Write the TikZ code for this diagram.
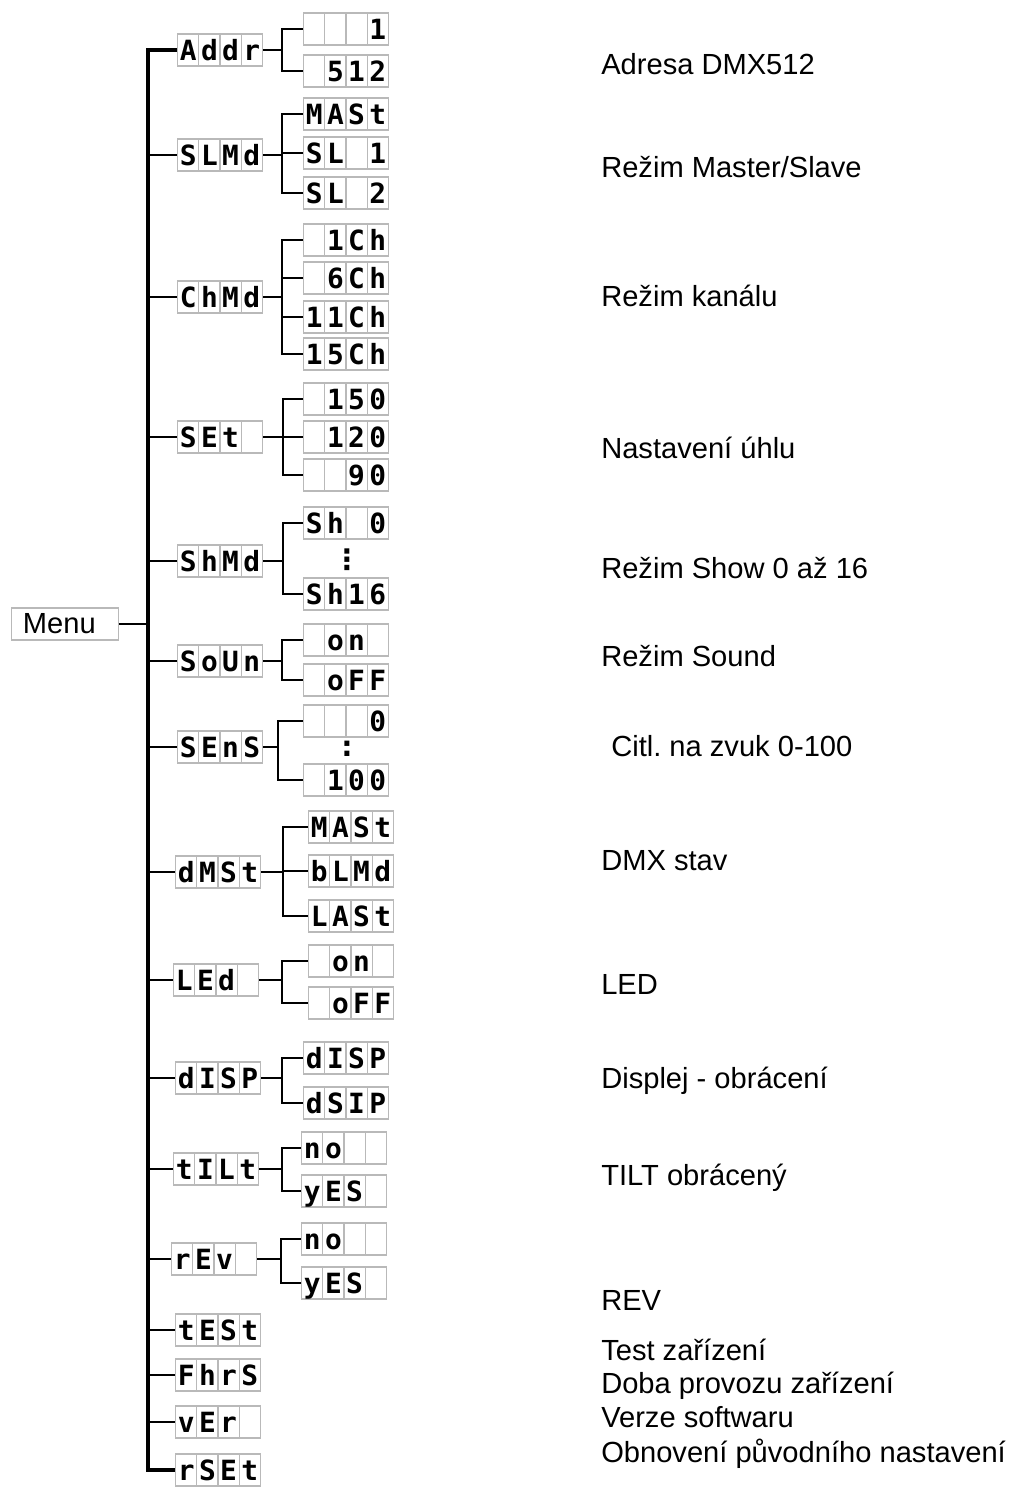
\documentclass[tikz,border=0pt]{standalone}
\usepackage{fontspec}
\setmainfont{Liberation Sans}
\newfontfamily\segfont{DejaVu Sans Mono}
\newfontfamily\dotfont{DejaVu Sans}
\usepackage{tikz}
\usetikzlibrary{calc}
\frenchspacing

% one character per display cell
\newcommand{\cells}[4]{\makebox[0.53cm]{#1}\makebox[0.53cm]{#2}\makebox[0.53cm]{#3}\makebox[0.53cm]{#4}}

\begin{document}
\begin{tikzpicture}[x=0.025cm, y=-0.025cm,
    lcd/.style={draw=gray!55, line width=0.9pt, minimum width=2.12cm, minimum height=0.8cm, inner sep=0pt,
      text height=14.4pt, text depth=0pt, font=\segfont\bfseries\fontsize{19.8}{20}\selectfont,
      path picture={\foreach \f in {0.25,0.5,0.75}
        \draw[gray!55, line width=0.9pt] ($(path picture bounding box.south west)!\f!(path picture bounding box.south east)$)
          -- ($(path picture bounding box.north west)!\f!(path picture bounding box.north east)$);}},
    lbl/.style={anchor=base west, inner sep=0pt, font=\fontsize{20.7}{24}\selectfont},
    dots/.style={inner sep=0pt, font=\dotfont\bfseries\fontsize{20}{20}\selectfont},
    tree/.style={line width=1.8pt},
    twig/.style={line width=1.1pt}
  ]
    \useasboundingbox (0,0) rectangle (1015,1488);

    % Root
    \node[draw=gray!55, line width=0.9pt, minimum height=0.8cm, text width=2.1cm, inner xsep=0.28cm, align=left,
      font=\fontsize{20.7}{24}\selectfont] (menu) at (65,624) {Menu};
    \coordinate (trunk) at (148,0);

    % First level
    \node[lcd] (addr) at (220,50) {\cells{A}{d}{d}{r}};
    \node[lcd] (slmd) at (220,155) {\cells{S}{L}{M}{d}};
    \node[lcd] (chmd) at (220,297) {\cells{C}{h}{M}{d}};
    \node[lcd] (set) at (220,437) {\cells{S}{E}{t}{}};
    \node[lcd] (shmd) at (220,561) {\cells{S}{h}{M}{d}};
    \node[lcd] (soun) at (220,661) {\cells{S}{o}{U}{n}};
    \node[lcd] (sens) at (220,747) {\cells{S}{E}{n}{S}};
    \node[lcd] (dmst) at (218,872) {\cells{d}{M}{S}{t}};
    \node[lcd] (led) at (216,980) {\cells{L}{E}{d}{}};
    \node[lcd] (disp) at (218,1078) {\cells{d}{I}{S}{P}};
    \node[lcd] (tilt) at (216,1169) {\cells{t}{I}{L}{t}};
    \node[lcd] (rev) at (214,1259) {\cells{r}{E}{v}{}};
    \node[lcd] (test) at (218,1330) {\cells{t}{E}{S}{t}};
    \node[lcd] (fhrs) at (218,1375) {\cells{F}{h}{r}{S}};
    \node[lcd] (ver) at (218,1422) {\cells{v}{E}{r}{}};
    \node[lcd] (rset) at (218,1470) {\cells{r}{S}{E}{t}};

    % Second level
    \node[lcd] (addr1) at (346,29) {\cells{}{}{}{1}};
    \node[lcd] (addr512) at (346,71) {\cells{}{5}{1}{2}};
    \node[lcd] (slmast) at (346,114) {\cells{M}{A}{S}{t}};
    \node[lcd] (sl1) at (346,153) {\cells{S}{L}{}{1}};
    \node[lcd] (sl2) at (346,193) {\cells{S}{L}{}{2}};
    \node[lcd] (ch1) at (346,240) {\cells{}{1}{C}{h}};
    \node[lcd] (ch6) at (346,278) {\cells{}{6}{C}{h}};
    \node[lcd] (ch11) at (346,317) {\cells{1}{1}{C}{h}};
    \node[lcd] (ch15) at (346,354) {\cells{1}{5}{C}{h}};
    \node[lcd] (set150) at (346,399) {\cells{}{1}{5}{0}};
    \node[lcd] (set120) at (346,437) {\cells{}{1}{2}{0}};
    \node[lcd] (set90) at (346,475) {\cells{}{}{9}{0}};
    \node[lcd] (sh0) at (346,523) {\cells{S}{h}{}{0}};
    \node[dots] (shdots) at (347,560) {⋮};
    \node[lcd] (sh16) at (346,594) {\cells{S}{h}{1}{6}};
    \node[lcd] (sndon) at (346,640) {\cells{}{o}{n}{}};
    \node[lcd] (sndoff) at (346,680) {\cells{}{o}{F}{F}};
    \node[lcd] (sens0) at (346,721) {\cells{}{}{}{0}};
    \node[dots] (sensdots) at (347,749) {:};
    \node[lcd] (sens100) at (346,780) {\cells{}{1}{0}{0}};
    \node[lcd] (dmmast) at (351,827) {\cells{M}{A}{S}{t}};
    \node[lcd] (dmblmd) at (351,871) {\cells{b}{L}{M}{d}};
    \node[lcd] (dmlast) at (351,916) {\cells{L}{A}{S}{t}};
    \node[lcd] (ledon) at (351,961) {\cells{}{o}{n}{}};
    \node[lcd] (ledoff) at (351,1003) {\cells{}{o}{F}{F}};
    \node[lcd] (dispn) at (346,1058) {\cells{d}{I}{S}{P}};
    \node[lcd] (dispr) at (346,1103) {\cells{d}{S}{I}{P}};
    \node[lcd] (tiltno) at (344,1148) {\cells{n}{o}{}{}};
    \node[lcd] (tiltyes) at (344,1191) {\cells{y}{E}{S}{}};
    \node[lcd] (revno) at (344,1239) {\cells{n}{o}{}{}};
    \node[lcd] (revyes) at (344,1283) {\cells{y}{E}{S}{}};

    % Descriptions
    \node[lbl] (laddr) at (601,74) {Adresa DMX512};
    \node[lbl] (lslmd) at (601,177) {Režim Master/Slave};
    \node[lbl] (lchmd) at (601,306) {Režim kanálu};
    \node[lbl] (lset) at (601,458) {Nastavení úhlu};
    \node[lbl] (lshmd) at (601,578) {Režim Show 0 až 16};
    \node[lbl] (lsoun) at (601,666) {Režim Sound};
    \node[lbl] (lsens) at (611,756) {Citl. na zvuk 0-100};
    \node[lbl] (ldmst) at (601,870) {DMX stav};
    \node[lbl] (lled) at (601,994) {LED};
    \node[lbl] (ldisp) at (601,1088) {Displej - obrácení};
    \node[lbl] (ltilt) at (601,1185) {TILT obrácený};
    \node[lbl] (lrev) at (601,1310) {REV};
    \node[lbl] (ltest) at (601,1360) {Test zařízení};
    \node[lbl] (lfhrs) at (601,1393) {Doba provozu zařízení};
    \node[lbl] (lver) at (601,1427) {Verze softwaru};
    \node[lbl] (lrset) at (601,1462) {Obnovení původního nastavení};

    % Trunk
    \draw[tree] (menu.east) -- (menu.east -| trunk);
    \draw[tree, line width=2.4pt] (addr.west) -| (trunk |- rset) -- (rset.west);
    \foreach \n in {slmd,chmd,set,shmd,soun,dmst,led,tilt,test,fhrs,ver}
      \draw[tree] (trunk |- \n) -- (\n.west);
    \foreach \n in {sens,disp,rev}
      \draw[twig] (trunk |- \n) -- (\n.west);

    % Branches
    \coordinate (addrbr) at (282,0);
    \draw[tree] (addr.east) -- (addrbr |- addr);
    \draw[tree] (addr1.west) -| (addrbr |- addr512) -- (addr512.west);

    \coordinate (slbr) at (282,0);
    \draw[tree] (slmd.east) -- (slbr |- slmd);
    \draw[tree] (slmast.west) -| (slbr |- sl2) -- (sl2.west);
    \draw[tree] (slbr |- sl1) -- (sl1.west);

    \coordinate (chbr) at (282,0);
    \draw[twig] (chmd.east) -- (chbr |- chmd);
    \draw[tree] (ch1.west) -| (chbr |- ch15) -- (ch15.west);
    \draw[tree] (chbr |- ch6) -- (ch6.west);
    \draw[tree] (chbr |- ch11) -- (ch11.west);

    \coordinate (setbr) at (283,0);
    \draw[twig] (set.east) -- (setbr |- set);
    \draw[tree] (set150.west) -| (setbr |- set90) -- (set90.west);
    \draw[tree] (setbr |- set120) -- (set120.west);

    \coordinate (shbr) at (283,0);
    \draw[tree] (shmd.east) -- (shbr |- shmd);
    \draw[tree] (sh0.west) -| (shbr |- sh16) -- (sh16.west);

    \coordinate (sndbr) at (282,0);
    \draw[tree] (soun.east) -- (sndbr |- soun);
    \draw[tree] (sndon.west) -| (sndbr |- sndoff) -- (sndoff.west);

    \coordinate (sensbr) at (278,0);
    \draw[tree] (sens.east) -- (sensbr |- sens);
    \draw[tree] (sens0.west) -| (sensbr |- sens100) -- (sens100.west);

    \coordinate (dmbr) at (283,0);
    \draw[twig] (dmst.east) -- (dmbr |- dmst);
    \draw[tree] (dmmast.west) -| (dmbr |- dmlast) -- (dmlast.west);
    \draw[twig] (dmbr |- dmblmd) -- (dmblmd.west);

    \coordinate (ledbr) at (282,0);
    \draw[tree] (led.east) -- (ledbr |- led);
    \draw[tree] (ledon.west) -| (ledbr |- ledoff) -- (ledoff.west);

    \coordinate (dispbr) at (282,0);
    \draw[twig] (disp.east) -- (dispbr |- disp);
    \draw[tree] (dispn.west) -| (dispbr |- dispr) -- (dispr.west);

    \coordinate (tiltbr) at (282,0);
    \draw[tree] (tilt.east) -- (tiltbr |- tilt);
    \draw[tree] (tiltno.west) -| (tiltbr |- tiltyes) -- (tiltyes.west);

    \coordinate (revbr) at (281,0);
    \draw[twig] (rev.east) -- (revbr |- rev);
    \draw[tree] (revno.west) -| (revbr |- revyes) -- (revyes.west);
  \end{tikzpicture}
\end{document}
